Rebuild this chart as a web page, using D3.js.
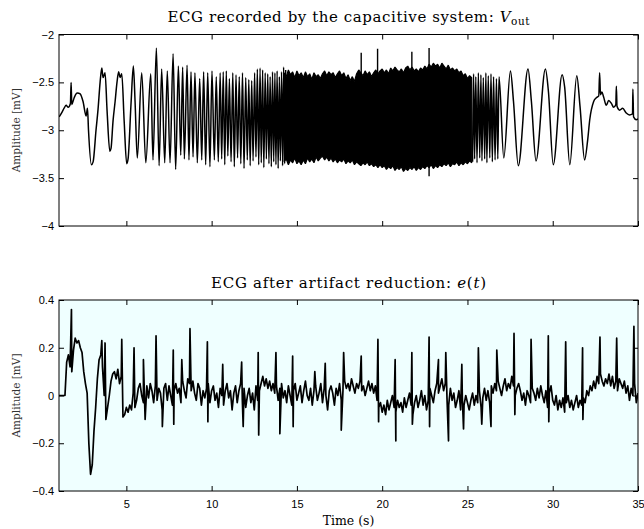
<!DOCTYPE html>
<html>
<head>
<meta charset="utf-8">
<script src="https://cdnjs.cloudflare.com/ajax/libs/d3/7.8.5/d3.min.js"></script>
<style>
body { margin: 0; background: #fff; }
text { font-family: "Liberation Sans", Arial, sans-serif; }
</style>
</head>
<body>
<script>
// tick values
const xTicks = [5, 10, 15, 20, 25, 30, 35];
const topYTicks = [-2, -2.5, -3, -3.5, -4];
const botYTicks = [0.4, 0.2, 0, -0.2, -0.4];

// top signal, slow part at the start (extrema)
const leftTimes = [1.06, 1.23, 1.35, 1.47, 1.59, 1.72, 1.76, 1.80, 1.94, 2.05, 2.13, 2.29, 2.46, 2.64, 2.72, 2.78,
  2.95, 3.05, 3.22, 3.34, 3.46, 3.56, 3.63, 3.70, 3.75, 3.87, 4.03, 4.10, 4.22, 4.34, 4.45, 4.55, 4.63, 4.73,
  4.87, 5.02, 5.10, 5.28, 5.41, 5.51, 5.64, 5.90, 6.14, 6.43, 6.56, 6.76, 6.92, 7.07, 7.25, 7.40, 7.56, 7.74,
  7.89, 8.05, 8.19, 8.30, 8.40, 8.56, 8.67, 8.79, 8.91, 9.02, 9.16, 9.30, 9.42, 9.53, 9.65, 9.77, 9.90, 10.02,
  10.16, 10.27, 10.39, 10.50, 10.59, 10.68, 10.77, 10.86, 10.95, 11.04, 11.14, 11.24, 11.33, 11.43, 11.52, 11.62,
  11.71, 11.81, 11.90, 12.00, 12.09, 12.18, 12.26, 12.35, 12.43, 12.52, 12.60, 12.68, 12.76, 12.84, 12.91, 12.99,
  13.06, 13.14, 13.21, 13.29, 13.36, 13.43, 13.50, 13.57, 13.64, 13.71, 13.77, 13.84, 13.90, 13.97, 14.03, 14.10,
  14.16, 14.22, 14.28, 14.34];
const leftValues = [-2.86, -2.81, -2.77, -2.74, -2.76, -2.72, -2.50, -2.73, -2.66, -2.62, -2.61, -2.62, -2.70, -2.85, -2.77, -3.00,
  -3.36, -3.33, -3.00, -2.78, -2.50, -2.35, -2.45, -2.42, -2.40, -2.80, -3.22, -3.19, -2.90, -2.70, -2.50, -2.39, -2.45, -2.41,
  -2.90, -3.35, -3.30, -2.70, -2.33, -2.70, -3.29, -2.40, -3.34, -2.41, -3.31, -2.14, -3.37, -2.36, -3.34, -2.38, -3.34, -2.20,
  -3.41, -2.33, -3.26, -2.34, -3.30, -2.32, -3.31, -2.39, -3.28, -2.40, -3.34, -2.46, -3.31, -2.39, -3.36, -2.40, -3.38, -2.38,
  -3.31, -2.44, -3.33, -2.40, -3.30, -2.39, -3.36, -2.38, -3.27, -2.46, -3.33, -2.40, -3.38, -2.42, -3.29, -2.44,
  -3.35, -2.40, -3.40, -2.45, -3.31, -2.47, -3.37, -2.48, -3.32, -2.40, -3.28, -2.36, -3.36, -2.35, -3.34, -2.37,
  -3.39, -2.40, -3.30, -2.41, -3.35, -2.44, -3.38, -2.39, -3.33, -2.40, -3.36, -2.38, -3.40, -2.44, -3.32, -2.39,
  -3.37, -2.34, -3.35, -2.37];

// top signal, fast part in the middle: upper and lower edge of the black band, every 0.125 s
const bandStart = 14.25;
const bandStep = 0.125;
const bandHigh = [
  -2.40, -2.44, -2.37, -2.42, -2.39, -2.45, -2.38, -2.43, -2.40,
  -2.45, -2.39, -2.44, -2.41, -2.47, -2.40, -2.44, -2.42, -2.46,
  -2.41, -2.38, -2.43, -2.39, -2.42, -2.40, -2.45, -2.41, -2.38,
  -2.43, -2.40, -2.46, -2.42, -2.48, -2.44, -2.49, -2.41, -2.37,
  -2.40, -2.43, -2.38, -2.42, -2.39, -2.44, -2.40, -2.37, -2.41,
  -2.38, -2.36, -2.40, -2.37, -2.41, -2.35, -2.38, -2.34, -2.37,
  -2.39, -2.36, -2.40, -2.35, -2.33, -2.37, -2.34, -2.38, -2.36,
  -2.39, -2.35, -2.37, -2.33, -2.36, -2.31, -2.34, -2.30, -2.33,
  -2.31, -2.35, -2.30, -2.33, -2.36, -2.32, -2.37, -2.35, -2.38,
  -2.36, -2.40, -2.38, -2.43, -2.41, -2.46, -2.43, -2.45];
const bandLow = [
  -3.33, -3.30, -3.36, -3.31, -3.34, -3.29, -3.35, -3.32, -3.36,
  -3.31, -3.35, -3.29, -3.33, -3.30, -3.34, -3.28, -3.32, -3.29,
  -3.27, -3.31, -3.28, -3.32, -3.29, -3.33, -3.30, -3.34, -3.31,
  -3.33, -3.30, -3.35, -3.32, -3.34, -3.31, -3.36, -3.33, -3.35,
  -3.37, -3.34, -3.36, -3.33, -3.37, -3.35, -3.38, -3.36, -3.39,
  -3.36, -3.39, -3.37, -3.41, -3.38, -3.40, -3.37, -3.42, -3.39,
  -3.41, -3.38, -3.43, -3.40, -3.42, -3.39, -3.41, -3.38, -3.42,
  -3.39, -3.41, -3.38, -3.40, -3.37, -3.39, -3.36, -3.40, -3.37,
  -3.39, -3.36, -3.38, -3.35, -3.37, -3.34, -3.38, -3.35, -3.36,
  -3.33, -3.37, -3.34, -3.36, -3.33, -3.35, -3.32, -3.34];

// spikes sticking out of the band
const bandSpikeTimes = [18.77, 19.73, 21.74, 22.75, 22.75];
const bandSpikeValues = [-2.19, -2.15, -2.18, -2.14, -3.48];

// top signal, slowing part at the end
const rightTimes = [25.30, 25.36, 25.42, 25.49, 25.56, 25.64, 25.72, 25.79, 25.85, 25.93, 26.01, 26.08, 26.14, 26.22,
  26.31, 26.38, 26.46, 26.53, 26.62, 26.70, 26.78, 26.85, 27.13, 27.52, 27.70, 27.98, 28.55, 28.75, 29.02, 29.57,
  29.75, 30.03, 30.55, 30.70, 31.00, 31.41, 31.60, 31.87, 32.05, 32.17, 32.40, 32.56, 32.70, 32.75, 32.80, 32.88,
  32.98, 33.14, 33.28, 33.44, 33.57, 33.70, 33.73, 33.77, 33.92, 34.10, 34.31, 34.50, 34.68, 34.70, 34.74, 34.90, 35.0];
const rightValues = [-3.33, -2.41, -3.30, -2.44, -3.34, -2.40, -3.29, -2.42, -3.32, -2.45, -3.30, -2.40, -3.34, -2.43,
  -3.29, -2.41, -3.33, -2.44, -3.31, -2.46, -3.30, -2.44, -3.29, -2.38, -2.70, -3.37, -2.36, -2.70, -3.32, -2.36,
  -2.60, -3.36, -2.42, -2.55, -3.36, -2.43, -2.75, -3.31, -3.10, -2.89, -2.70, -2.66, -2.64, -2.40, -2.63, -2.60,
  -2.65, -2.74, -2.69, -2.72, -2.76, -2.73, -2.54, -2.75, -2.79, -2.77, -2.82, -2.84, -2.83, -2.57, -2.86, -2.89, -2.88];

// bottom signal: samples every 0.1 s from 1.1 s to 35.0 s (one row per second)
const ecgStart = 1.1;
const ecgStep = 0.1;
const ecgValues = [
  0, 0, 0, 0, 0.14, 0.17, 0.12, 0.10, 0.19, 0.24,
  0.22, 0.23, 0.20, 0.18, 0.10, 0.05, 0.01, -0.20, -0.33, -0.29,
  -0.15, -0.05, 0.07, 0.15, 0.17, 0.12, 0.0, -0.10, -0.05, 0.0,
  0.06, 0.09, 0.10, 0.07, 0.11, 0.05, 0.08, -0.09, -0.08, -0.05,
  -0.07, -0.04, -0.06, 0.01, -0.05, -0.02, 0.03, 0.05, 0.0, -0.03,
  -0.10, 0.04, -0.01, 0.05, 0.02, -0.03, 0.04, -0.02, 0.03, 0.01,
  -0.06, 0.03, 0.05, -0.02, 0.04, 0.0, -0.04, 0.02, 0.05, 0.01,
  0.03, -0.03, 0.06, 0.02, -0.01, 0.07, 0.05, 0.02, 0.06, 0.01,
  -0.02, 0.05, 0.03, -0.04, 0.02, -0.01, 0.03, 0.05, -0.03, 0.02,
  0.04, -0.02, 0.01, -0.05, 0.03, 0.0, -0.04, 0.02, 0.05, -0.01,
  0.02, -0.06, 0.01, 0.04, -0.03, 0.02, 0.05, -0.02, 0.03, -0.05,
  0.0, 0.03, -0.03, 0.01, -0.06, 0.04, -0.02, 0.02, 0.05, 0.08,
  0.04, 0.07, 0.03, 0.06, 0.02, 0.05, 0.01, 0.04, -0.02, 0.03,
  0.05, -0.01, 0.02, -0.03, 0.04, 0.0, -0.04, 0.02, 0.05, -0.02,
  0.01, 0.04, -0.03, 0.02, 0.06, 0.0, -0.02, 0.03, -0.04, 0.02,
  0.04, -0.02, 0.01, 0.05, -0.03, 0.03, 0.0, -0.06, 0.02, 0.04,
  0.01, -0.04, 0.03, 0.0, 0.05, -0.02, 0.02, 0.06, 0.03, 0.05,
  0.02, 0.07, 0.04, 0.01, 0.05, 0.03, 0.06, 0.02, 0.04, 0.0,
  0.03, 0.06, 0.02, 0.05, 0.01, 0.04, -0.02, -0.05, -0.03, -0.07,
  -0.04, -0.08, -0.02, -0.06, -0.03, 0.0, -0.05, -0.07, -0.02, -0.05,
  -0.03, -0.07, -0.01, -0.05, -0.02, 0.01, -0.04, -0.08, -0.03, 0.0,
  -0.05, -0.02, 0.02, -0.04, 0.0, -0.06, -0.02, 0.03, 0.0, -0.03,
  0.02, 0.05, 0.01, 0.04, 0.07, 0.02, 0.05, -0.01, -0.04, 0.03,
  -0.02, 0.01, -0.05, -0.02, 0.02, -0.06, -0.01, -0.04, 0.0, -0.03,
  -0.06, -0.02, 0.01, -0.04, 0.0, -0.03, 0.02, -0.05, -0.01, 0.03,
  -0.02, 0.02, -0.03, 0.04, 0.01, 0.05, 0.02, 0.06, 0.03, 0.0,
  0.04, 0.07, 0.02, 0.05, 0.03, 0.08, 0.04, 0.0, 0.03, 0.05,
  0.02, -0.02, 0.01, -0.04, 0.02, 0.0, -0.03, 0.03, 0.01, -0.02,
  0.03, -0.01, 0.04, 0.0, -0.03, 0.02, -0.05, 0.01, 0.04, -0.02,
  -0.04, 0.0, -0.06, -0.02, -0.05, -0.01, -0.07, -0.03, 0.0, -0.05,
  -0.02, -0.06, -0.03, 0.0, -0.05, -0.02, -0.04, -0.01, -0.03, 0.02,
  0.0, 0.04, 0.02, 0.06, 0.03, 0.08, 0.05, 0.09, 0.06, 0.04,
  0.07, 0.05, 0.09, 0.04, 0.08, 0.03, 0.06, 0.02, 0.07, 0.05,
  0.03, 0.06, 0.01, 0.04, -0.02, 0.03, 0.0, 0.05, -0.03, 0.01
];

// R peaks (upward spikes) and S dips (downward spikes) in the bottom signal
const peakTimes = [1.78, 3.56, 3.75, 4.73, 5.45, 6.0, 6.74, 7.75, 8.25, 8.73, 9.75, 10.65, 11.76, 12.73, 13.77,
  14.75, 16.05, 16.66, 17.74, 18.77, 19.75, 20.76, 21.74, 22.75, 23.30, 23.73, 24.67, 25.64, 26.72, 27.73,
  28.73, 29.74, 30.76, 31.75, 32.77, 33.75, 34.76];
const peakValues = [0.36, 0.23, 0.22, 0.235, 0.20, 0.15, 0.25, 0.19, 0.15, 0.28, 0.225, 0.13, 0.14, 0.18, 0.18,
  0.165, 0.10, 0.135, 0.18, 0.165, 0.235, 0.15, 0.18, 0.245, 0.15, 0.18, 0.13, 0.20, 0.19, 0.26,
  0.235, 0.25, 0.225, 0.20, 0.245, 0.24, 0.29];
const dipTimes = [7.11, 7.78, 9.78, 11.85, 12.76, 14.0, 14.78, 17.6, 19.79, 20.8, 21.77, 22.78, 23.89, 24.77,
  25.84, 26.38, 27.78, 29.77, 31.77];
const dipValues = [-0.13, -0.12, -0.11, -0.13, -0.165, -0.16, -0.13, -0.145, -0.11, -0.19, -0.12, -0.13, -0.19, -0.14,
  -0.12, -0.13, -0.08, -0.11, -0.10];

const width = 644, height = 529;
const left = 59, right = 638;
const topPanel = {y0: 34.5, y1: 226};
const botPanel = {y0: 300, y1: 491};

const svg = d3.select("body").append("svg")
    .attr("width", width)
    .attr("height", height);

const x = d3.scaleLinear().domain([1.05, 35]).range([left, right]);
const yTop = d3.scaleLinear().domain([-4, -2]).range([topPanel.y1, topPanel.y0]);
const yBot = d3.scaleLinear().domain([-0.4, 0.4]).range([botPanel.y1, botPanel.y0]);

const fmt = d3.format("");

function drawAxes(y, yTicks, panel, bg, showX) {
  svg.append("rect")
      .attr("x", left).attr("y", panel.y0)
      .attr("width", right - left).attr("height", panel.y1 - panel.y0)
      .attr("fill", bg);

  const gl = svg.append("g").attr("transform", `translate(${left},0)`)
      .call(d3.axisLeft(y).tickValues(yTicks).tickSizeInner(-5).tickSizeOuter(0).tickPadding(5).tickFormat(fmt));
  const gr = svg.append("g").attr("transform", `translate(${right},0)`)
      .call(d3.axisRight(y).tickValues(yTicks).tickSizeInner(-5).tickSizeOuter(0).tickFormat(""));
  const gt = svg.append("g").attr("transform", `translate(0,${panel.y0})`)
      .call(d3.axisTop(x).tickValues(xTicks).tickSizeInner(-5).tickSizeOuter(0).tickFormat(""));
  const gb = svg.append("g").attr("transform", `translate(0,${panel.y1})`)
      .call(d3.axisBottom(x).tickValues(xTicks).tickSizeInner(-5).tickSizeOuter(0).tickPadding(9)
        .tickFormat(showX ? fmt : ""));

  [gl, gr, gt, gb].forEach(g => {
    g.select(".domain").remove();
    g.selectAll("line").attr("stroke", "#000");
    g.selectAll("text").attr("fill", "#000").style("font-size", "11px")
      .style("font-family", "'Liberation Sans', Arial, sans-serif");
  });
}

function frame(panel) {
  svg.append("rect")
      .attr("x", left).attr("y", panel.y0)
      .attr("width", right - left).attr("height", panel.y1 - panel.y0)
      .attr("fill", "none").attr("stroke", "#000").attr("stroke-width", 1);
}

function clip(id, panel) {
  svg.append("clipPath").attr("id", id)
    .append("rect")
      .attr("x", left).attr("y", panel.y0)
      .attr("width", right - left).attr("height", panel.y1 - panel.y0);
}

// ---- top panel
drawAxes(yTop, topYTicks, topPanel, "#fff", false);
clip("clipTop", topPanel);

const topLine = d3.line()
    .x(d => x(d[0]))
    .y(d => yTop(d[1]))
    .curve(d3.curveMonotoneX);

const gTop = svg.append("g").attr("clip-path", "url(#clipTop)");

const band = bandHigh.map((h, i) => [bandStart + i * bandStep, h, bandLow[i]]);

gTop.append("path")
    .datum(band)
    .attr("fill", "#000")
    .attr("stroke", "#000")
    .attr("stroke-width", 1.2)
    .attr("stroke-linejoin", "bevel")
    .attr("d", d3.area()
      .x(d => x(d[0]))
      .y0(d => yTop(d[2]))
      .y1(d => yTop(d[1])));

gTop.selectAll(".spike")
    .data(d3.zip(bandSpikeTimes, bandSpikeValues))
  .enter().append("line")
    .attr("class", "spike")
    .attr("x1", d => x(d[0])).attr("x2", d => x(d[0]))
    .attr("y1", yTop(-2.9)).attr("y2", d => yTop(d[1]))
    .attr("stroke", "#000")
    .attr("stroke-width", 1.4);

gTop.append("path")
    .datum(d3.zip(leftTimes, leftValues))
    .attr("fill", "none")
    .attr("stroke", "#000")
    .attr("stroke-width", 1.5)
    .attr("d", topLine);

gTop.append("path")
    .datum(d3.zip(rightTimes, rightValues))
    .attr("fill", "none")
    .attr("stroke", "#000")
    .attr("stroke-width", 1.5)
    .attr("d", topLine);

frame(topPanel);

// ---- bottom panel
drawAxes(yBot, botYTicks, botPanel, "#efffff", true);
clip("clipBot", botPanel);

const ecg = [[1.05, 0]]
  .concat(ecgValues.map((v, i) => [ecgStart + i * ecgStep, v]))
  .concat(d3.zip(peakTimes, peakValues))
  .concat(d3.zip(dipTimes, dipValues))
  .sort((a, b) => a[0] - b[0]);

svg.append("g").attr("clip-path", "url(#clipBot)")
  .append("path")
    .datum(ecg)
    .attr("fill", "none")
    .attr("stroke", "#000")
    .attr("stroke-width", 1.7)
    .attr("stroke-linejoin", "round")
    .attr("d", d3.line().x(d => x(d[0])).y(d => yBot(d[1])));

frame(botPanel);

// ---- titles and labels
const serif = "'DejaVu Serif', 'Liberation Serif', serif";
const cx = (left + right) / 2;

const t1 = svg.append("text")
    .attr("x", cx).attr("y", 22)
    .attr("text-anchor", "middle")
    .attr("textLength", 362)
    .attr("lengthAdjust", "spacing")
    .style("font-family", serif).style("font-size", "15px");
t1.append("tspan").text("ECG recorded by the capacitive system: ");
t1.append("tspan").style("font-style", "italic").text("V");
t1.append("tspan").attr("dy", 3).style("font-size", "10.5px").text("out");

const t2 = svg.append("text")
    .attr("x", cx).attr("y", 288)
    .attr("text-anchor", "middle")
    .attr("textLength", 275)
    .attr("lengthAdjust", "spacing")
    .style("font-family", serif).style("font-size", "15px");
t2.append("tspan").text("ECG after artifact reduction: ");
t2.append("tspan").style("font-style", "italic").text("e");
t2.append("tspan").text("(");
t2.append("tspan").style("font-style", "italic").text("t");
t2.append("tspan").text(")");

[topPanel, botPanel].forEach(p => {
  svg.append("text")
      .attr("transform", `translate(17,${(p.y0 + p.y1) / 2}) rotate(-90)`)
      .attr("text-anchor", "middle")
      .attr("dominant-baseline", "middle")
      .style("font-family", serif).style("font-size", "10.5px")
      .attr("fill", "#333")
      .text("Amplitude [mV]");
});

svg.append("text")
    .attr("x", cx).attr("y", 525)
    .attr("text-anchor", "middle")
    .style("font-family", serif).style("font-size", "12.5px")
    .text("Time (s)");
</script>
</body>
</html>
